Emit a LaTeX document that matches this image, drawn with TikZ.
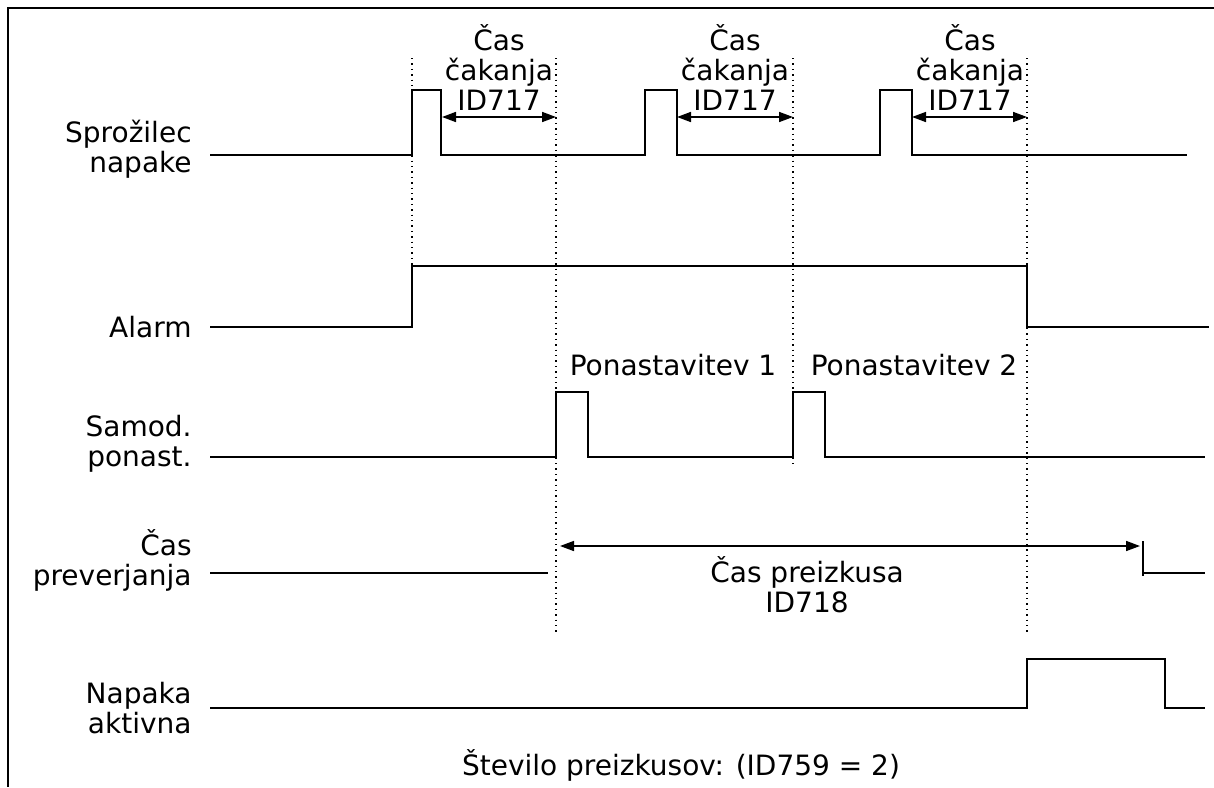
\documentclass[tikz,border=0pt]{standalone}
\usepackage{fontspec}
\setmainfont{DejaVu Sans}
\usetikzlibrary{arrows.meta}

\begin{document}
\begin{tikzpicture}[x=0.5pt, y=-0.5pt,
        wave/.style={line width=0.8pt},
        guide/.style={dotted, line width=0.7pt},
        span/.style={{Triangle[length=7pt,width=5pt]}-{Triangle[length=7pt,width=5pt]}, line width=0.8pt},
        lbl/.style={anchor=base east, align=right, inner sep=0pt, font=\fontsize{14}{14.8}\selectfont},
        txt/.style={anchor=base, align=center, inner sep=0pt, font=\fontsize{14}{14.8}\selectfont}]
    \useasboundingbox (0,0) rectangle (1214,787);
    \draw[line width=1pt] (1214,8) -- (8,8) -- (8,787);

    \foreach \n/\x/\b in {a/412/266, b/556/632, c/793/465, d/1027/632} {
        \coordinate (\n top) at (\x,58);
        \coordinate (\n bot) at (\x,\b);
        \draw[guide] (\n top) -- (\n bot);
    }

    \node[lbl] (trig) at (192,172) {Sprožilec\\napake};
    \node[lbl] (alarm) at (192,337) {Alarm};
    \node[lbl] (reset) at (192,466) {Samod.\\ponast.};
    \node[lbl] (check) at (192,585) {Čas\\preverjanja};
    \node[lbl] (fault) at (192,733) {Napaka\\aktivna};

    \draw[wave] (210,155) -| (412,90) -| (441,155) -| (645,90) -| (677,155)
        -| (880,90) -| (912,155) -- (1187,155);
    \draw[wave] (210,327) -| (412,266) -| (1027,327) -- (1209,327);
    \draw[wave] (210,457) -| (556,392) -| (588,457) -| (793,392) -| (825,457) -- (1205,457);
    \draw[wave] (210,573) -- (548,573);
    \draw[wave] (1143,541) -- (1143,576) (1143,573) -- (1205,573);
    \draw[wave] (210,708) -| (1027,659) -| (1165,708) -- (1205,708);

    \foreach \i/\s/\e/\c in {1/442/556/499, 2/677/793/735, 3/912/1027/970} {
        \coordinate (w\i s) at (\s,117);
        \coordinate (w\i e) at (\e,117);
        \draw[span] (w\i s) -- (w\i e);
        \node[txt] (wait\i) at (\c,110) {Čas\\čakanja\\ID717};
    }

    \coordinate (ts) at (560,546);
    \coordinate (te) at (1140,546);
    \draw[span] (ts) -- (te);
    \node[txt] (trial) at (807,612) {Čas preizkusa\\ID718};

    \node[txt] (res1) at (673,375) {Ponastavitev 1};
    \node[txt] (res2) at (914,375) {Ponastavitev 2};
    \node[txt] (count) at (681,775) {Število preizkusov: (ID759 = 2)};
\end{tikzpicture}
\end{document}
